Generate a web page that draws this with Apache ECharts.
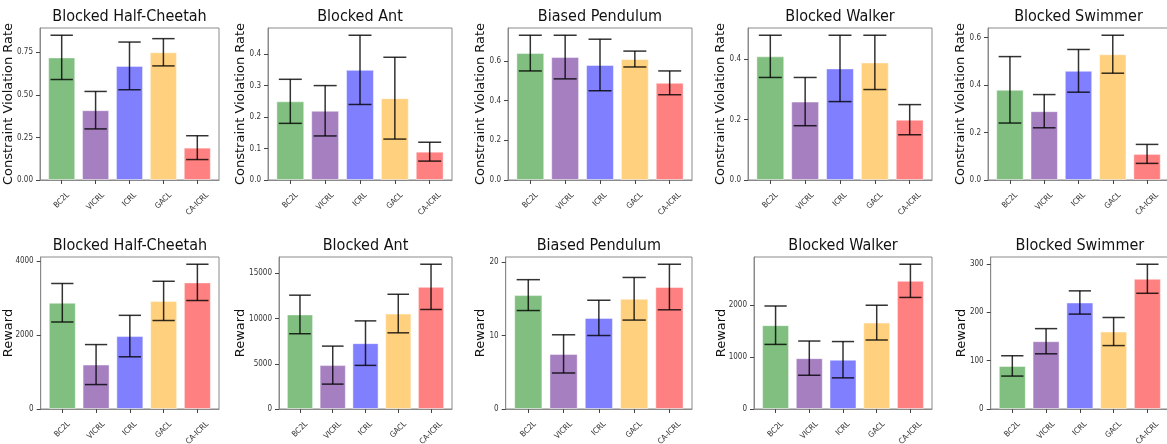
<!DOCTYPE html>
<html>
<head>
<meta charset="utf-8">
<script src="https://cdn.jsdelivr.net/npm/echarts@6/dist/echarts.min.js"></script>
<style>
html,body{margin:0;padding:0;background:#ffffff;}
#chart{width:1167px;height:444px;}
</style>
</head>
<body>
<div id="chart"></div>
<script>
// ---------------- data ----------------
const categories = ['BC2L', 'VICRL', 'ICRL', 'GACL', 'CA-ICRL'];
const environments = ['Blocked Half-Cheetah', 'Blocked Ant', 'Biased Pendulum', 'Blocked Walker', 'Blocked Swimmer'];

// Constraint violation rate (mean and error half-width)
const cvrHalfCheetah    = [0.72, 0.41, 0.67, 0.75, 0.19];
const cvrHalfCheetahErr = [0.13, 0.11, 0.14, 0.08, 0.07];
const cvrAnt            = [0.25, 0.22, 0.35, 0.26, 0.09];
const cvrAntErr         = [0.07, 0.08, 0.11, 0.13, 0.03];
const cvrPendulum       = [0.64, 0.62, 0.58, 0.61, 0.49];
const cvrPendulumErr    = [0.09, 0.11, 0.13, 0.04, 0.06];
const cvrWalker         = [0.41, 0.26, 0.37, 0.39, 0.20];
const cvrWalkerErr      = [0.07, 0.08, 0.11, 0.09, 0.05];
const cvrSwimmer        = [0.38, 0.29, 0.46, 0.53, 0.11];
const cvrSwimmerErr     = [0.14, 0.07, 0.09, 0.08, 0.04];

// Reward (mean and error half-width)
const rewHalfCheetah    = [2870, 1200, 1970, 2920, 3420];
const rewHalfCheetahErr = [520, 540, 560, 530, 490];
const rewAnt            = [10450, 4850, 7280, 10550, 13500];
const rewAntErr         = [2130, 2100, 2460, 2130, 2500];
const rewPendulum       = [15.5, 7.5, 12.4, 15.0, 16.6];
const rewPendulumErr    = [2.1, 2.6, 2.4, 2.9, 3.1];
const rewWalker         = [1615, 980, 950, 1665, 2470];
const rewWalkerErr      = [370, 330, 350, 335, 320];
const rewSwimmer        = [89, 140, 220, 160, 269];
const rewSwimmerErr     = [21, 26, 24, 29, 30];

// tick labels
const cvrTicks = [[0, 0.25, 0.5, 0.75], [0, 0.1, 0.2, 0.3, 0.4], [0, 0.2, 0.4, 0.6], [0, 0.2, 0.4], [0, 0.2, 0.4, 0.6]];
const cvrTickDecimals = [2, 1, 1, 1, 1];
const rewTicks = [[0, 2000, 4000], [0, 5000, 10000, 15000], [0, 10, 20], [0, 1000, 2000], [0, 100, 200, 300]];
const rewTickDecimals = [0, 0, 0, 0, 0];

const cvrMeans = [cvrHalfCheetah, cvrAnt, cvrPendulum, cvrWalker, cvrSwimmer];
const cvrErrs  = [cvrHalfCheetahErr, cvrAntErr, cvrPendulumErr, cvrWalkerErr, cvrSwimmerErr];
const rewMeans = [rewHalfCheetah, rewAnt, rewPendulum, rewWalker, rewSwimmer];
const rewErrs  = [rewHalfCheetahErr, rewAntErr, rewPendulumErr, rewWalkerErr, rewSwimmerErr];

// ---------------- style / layout ----------------
const barColors = ['#80bf80', '#a57fc0', '#8080ff', '#ffd17f', '#ff8080'];
const FONT = 'DejaVu Sans';
const FONT_C = '"DejaVu Sans Condensed", "DejaVu Sans"';
const XLABEL_SIZE = 8;

const rows = [
  { top: 28, bottom: 180, titleTop: 9, lefts: [40, 268, 508, 748, 988], rights: [219, 452, 692, 932, 1169],
    gaps: [25, 21, 20.7, 20.7, 20.7], name: 'Constraint Violation Rate',
    means: cvrMeans, errs: cvrErrs, ticks: cvrTicks, dec: cvrTickDecimals },
  { top: 257, bottom: 409, titleTop: 238, lefts: [40.7, 279, 505.7, 754, 990.7], rights: [219, 452, 692, 932, 1169],
    gaps: [25.7, 32, 18.4, 26.3, 23], name: 'Reward',
    means: rewMeans, errs: rewErrs, ticks: rewTicks, dec: rewTickDecimals }
];

const measureCtx = document.createElement('canvas').getContext('2d');
measureCtx.font = XLABEL_SIZE + 'px ' + FONT_C;

const grids = [], xAxes = [], yAxes = [], series = [], titles = [];
const catIdx = categories.map((c, i) => i);
const capHalf = 0.33;

rows.forEach((row, r) => {
  for (let c = 0; c < 5; c++) {
    const k = r * 5 + c;
    const left = row.lefts[c], right = row.rights[c];
    const means = row.means[c], errs = row.errs[c];
    const ymax = Math.max(...means.map((m, i) => m + errs[i])) * 1.05;
    const dec = row.dec[c];

    grids.push({
      left: left, top: row.top, width: right - left, height: row.bottom - row.top,
      show: true, borderColor: '#8a8a8a', borderWidth: 1, backgroundColor: 'transparent',
      outerBoundsMode: 'none', containLabel: false
    });
    titles.push({
      text: environments[c], left: (left + right) / 2, top: row.titleTop, textAlign: 'center', padding: 0,
      textStyle: { fontFamily: FONT_C, fontSize: 16, fontWeight: 'normal', color: '#111' }
    });
    xAxes.push({
      gridIndex: k, type: 'value', min: -0.64, max: 4.64,
      splitLine: { show: false },
      axisLine: { show: true, onZero: false, lineStyle: { color: '#8a8a8a', width: 1 } },
      axisTick: { show: true, customValues: catIdx, length: 4, lineStyle: { color: '#444' } },
      axisLabel: { show: false }
    });
    yAxes.push({
      gridIndex: k, type: 'value', min: 0, max: ymax,
      name: row.name, nameLocation: 'middle', nameGap: row.gaps[c], nameRotate: 90,
      nameMoveOverlap: false,
      nameTextStyle: { fontFamily: FONT, fontSize: 13, color: '#111' },
      splitLine: { show: false },
      axisLine: { show: true, onZero: false, lineStyle: { color: '#8a8a8a', width: 1 } },
      axisTick: { show: true, customValues: row.ticks[c], length: 4, lineStyle: { color: '#444' } },
      axisLabel: {
        show: true, customValues: row.ticks[c], margin: 7, fontSize: 8, fontFamily: FONT_C, color: '#333',
        formatter: v => Number(v).toFixed(dec)
      }
    });
    series.push({
      type: 'bar', xAxisIndex: k, yAxisIndex: k, barWidth: '80%',
      data: means.map((m, i) => ({ value: [i, m], itemStyle: { color: barColors[i], borderColor: 'rgba(255,255,255,0.45)', borderWidth: 1 } })),
      silent: true, z: 2
    });
    series.push({
      type: 'custom', xAxisIndex: k, yAxisIndex: k, z: 5, silent: true,
      encode: { x: 0, y: [1, 2] },
      data: means.map((m, i) => [i, m - errs[i], m + errs[i]]),
      renderItem: (params, api) => {
        const x = api.value(0), lo = api.value(1), hi = api.value(2);
        const pLo = api.coord([x, lo]), pHi = api.coord([x, hi]);
        const aL = api.coord([x - capHalf, hi]), aR = api.coord([x + capHalf, hi]);
        const bL = api.coord([x - capHalf, lo]), bR = api.coord([x + capHalf, lo]);
        const st = { stroke: 'rgba(0,0,0,0.8)', lineWidth: 1.5 };
        return {
          type: 'group',
          children: [
            { type: 'line', shape: { x1: pLo[0], y1: pLo[1], x2: pHi[0], y2: pHi[1] }, style: st },
            { type: 'line', shape: { x1: aL[0], y1: aL[1], x2: aR[0], y2: aR[1] }, style: st },
            { type: 'line', shape: { x1: bL[0], y1: bL[1], x2: bR[0], y2: bR[1] }, style: st }
          ]
        };
      }
    });
    // rotated category labels, centred under each tick (matplotlib style)
    series.push({
      type: 'custom', xAxisIndex: k, yAxisIndex: k, z: 6, silent: true, clip: false,
      encode: { x: 0, y: 1 },
      data: catIdx.map(i => [i, 0]),
      renderItem: (params, api) => {
        const i = api.value(0);
        const p = api.coord([i, 0]);
        const text = categories[i];
        const w = measureCtx.measureText(text).width;
        const half = (w + XLABEL_SIZE) * Math.SQRT1_2 / 2;
        return {
          type: 'text', x: p[0], y: p[1] + 11 + half, rotation: Math.PI / 4,
          style: { text: text, align: 'center', verticalAlign: 'middle', fontSize: XLABEL_SIZE,
                   fontFamily: FONT_C, fill: '#333' }
        };
      }
    });
  }
});

const chart = echarts.init(document.getElementById('chart'), null, { renderer: 'canvas' });
chart.setOption({
  animation: false,
  backgroundColor: '#ffffff',
  textStyle: { fontFamily: FONT },
  title: titles,
  grid: grids,
  xAxis: xAxes,
  yAxis: yAxes,
  series: series
});
</script>
</body>
</html>
